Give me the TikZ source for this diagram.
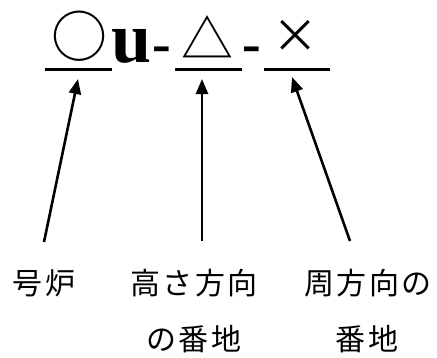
\documentclass[tikz,border=0pt]{standalone}
\usepackage{fontspec}
\setmainfont{Liberation Serif}
\newfontfamily\cjk{Noto Sans CJK JP}
\newfontfamily\cjkl[LetterSpace=8]{Noto Sans CJK JP}
\usetikzlibrary{arrows.meta}
\begin{document}
\begin{tikzpicture}[x=1pt,y=-1pt,
  sym/.style={inner sep=0pt, font=\cjk\fontsize{56}{56}\selectfont},
  ltr/.style={inner sep=0pt, anchor=base, font=\bfseries\fontsize{72}{72}\selectfont},
  lbl/.style={inner sep=0pt, font=\cjkl\fontsize{30}{30}\selectfont},
  uline/.style={line width=3pt},
  arr/.style={line width=2.6pt, -{Triangle[length=15pt,width=12pt]}}]
\useasboundingbox (0,0) rectangle (437,357);
% top symbols
\node[sym] (circ) at (80,36) {○};
\node[ltr] (u) at (132,62) {u};
\node[ltr, font=\bfseries\fontsize{56}{56}\selectfont] (d1) at (162,62) {-};
\node[sym, font=\cjk\fontsize{52}{52}\selectfont] (tri) at (207,37) {△};
\node[ltr, font=\bfseries\fontsize{56}{56}\selectfont] (d2) at (252,62) {-};
\node[sym, font=\cjk\fontsize{46}{46}\selectfont] (cross) at (295,36) {×};
% underlines
\coordinate (l1a) at (45,69); \coordinate (l1b) at (112,69);
\coordinate (l2a) at (175,69); \coordinate (l2b) at (242,69);
\coordinate (l3a) at (264,69); \coordinate (l3b) at (330,69);
\draw[uline] (l1a) -- (l1b);
\draw[uline] (l2a) -- (l2b);
\draw[uline] (l3a) -- (l3b);
% arrows
\coordinate (t1) at (78,79); \coordinate (s1) at (44,242);
\coordinate (t2) at (202,79); \coordinate (s2) at (202,241);
\coordinate (t3) at (292,77); \coordinate (s3) at (350,241);
\draw[arr] (s1) -- (t1);
\draw[arr] (s2) -- (t2);
\draw[arr] (s3) -- (t3);
% labels
\node[lbl] (a) at (44,283) {号炉};
\node[lbl] (b) at (194,283) {高さ方向};
\node[lbl] (b2) at (194,339) {の番地};
\node[lbl] (c) at (368,283) {周方向の};
\node[lbl] (c2) at (367,339) {番地};
\end{tikzpicture}
\end{document}
